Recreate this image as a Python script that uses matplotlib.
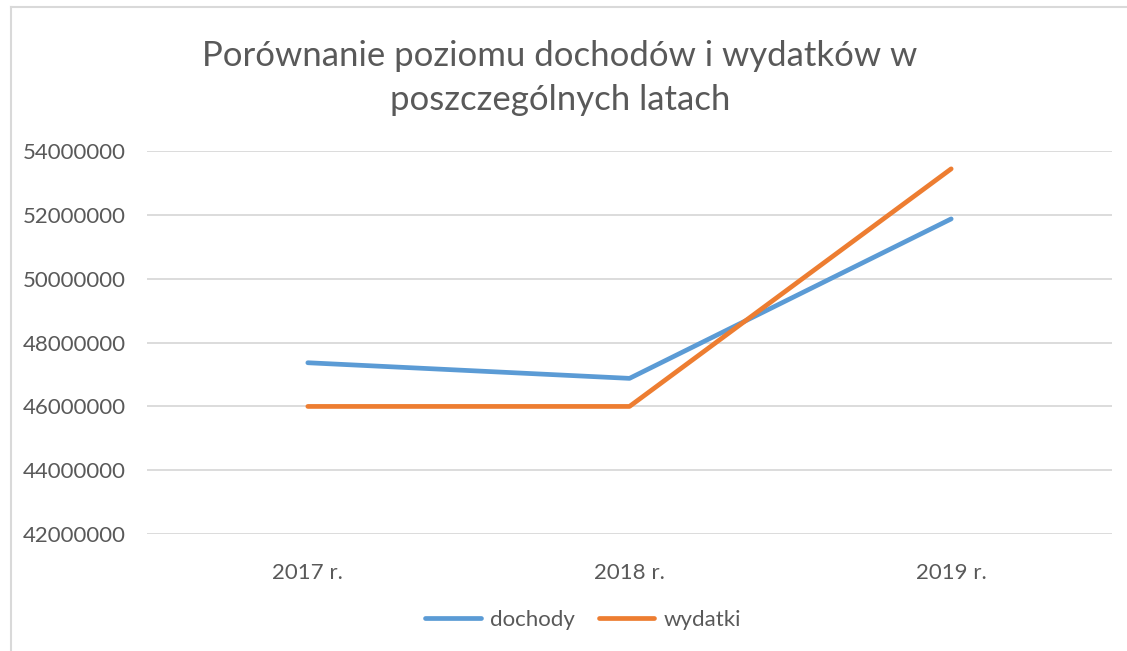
import matplotlib
matplotlib.use("Agg")
import matplotlib.pyplot as plt
from matplotlib.lines import Line2D

categories = ["2017 r.", "2018 r.", "2019 r."]
dochody = [47370000, 46880000, 51880000]
wydatki = [46000000, 46000000, 53450000]
yticks = [42000000, 44000000, 46000000, 48000000, 50000000, 52000000, 54000000]
title = "Porównanie poziomu dochodów i wydatków w\nposzczególnych latach"

plt.rcParams['font.family'] = ['Lato', 'DejaVu Sans']
txt = '#595959'
W, H = 1127, 651
fig = plt.figure(figsize=(W/100, H/100), dpi=100)

# chart border (left and top visible)
fig.add_artist(Line2D([11.5/W, 11.5/W], [0, 1-7/H], color='#D9D9D9', lw=1.5, transform=fig.transFigure))
fig.add_artist(Line2D([11.5/W, 1], [1-7/H, 1-7/H], color='#D9D9D9', lw=1.5, transform=fig.transFigure))

ax = fig.add_axes([147/W, 1-534/H, (1112-147)/W, (534-151.3)/H])
x = list(range(len(categories)))
l1, = ax.plot(x, dochody, color='#5B9BD5', lw=3.4, solid_capstyle='round', solid_joinstyle='round', label='dochody', zorder=3)
l2, = ax.plot(x, wydatki, color='#ED7D31', lw=3.4, solid_capstyle='round', solid_joinstyle='round', label='wydatki', zorder=3)

ax.set_xlim(-0.5, 2.5)
ax.set_ylim(yticks[0], yticks[-1])
ax.set_yticks(yticks)
ax.set_yticklabels([str(v) for v in yticks])
ax.set_xticks(x)
ax.set_xticklabels(categories)
ax.grid(axis='y', color='#D9D9D9', lw=1.3)
ax.set_axisbelow(True)
for s in ax.spines.values():
    s.set_visible(False)
ax.tick_params(axis='both', length=0, colors=txt, labelsize=16)
ax.tick_params(axis='y', pad=15)
ax.tick_params(axis='x', pad=21)

fig.text(560/W, 1-78/H, title, ha='center', va='center', fontsize=25, color=txt, linespacing=1.45)

leg = fig.legend(handles=[l1, l2], loc='center', bbox_to_anchor=(583/W, 1-620/H), ncol=2, frameon=False,
                 fontsize=16, handlelength=2.5, handletextpad=0.4, columnspacing=1.1)
for t in leg.get_texts():
    t.set_color(txt)

fig.savefig('out.png', dpi=100)
